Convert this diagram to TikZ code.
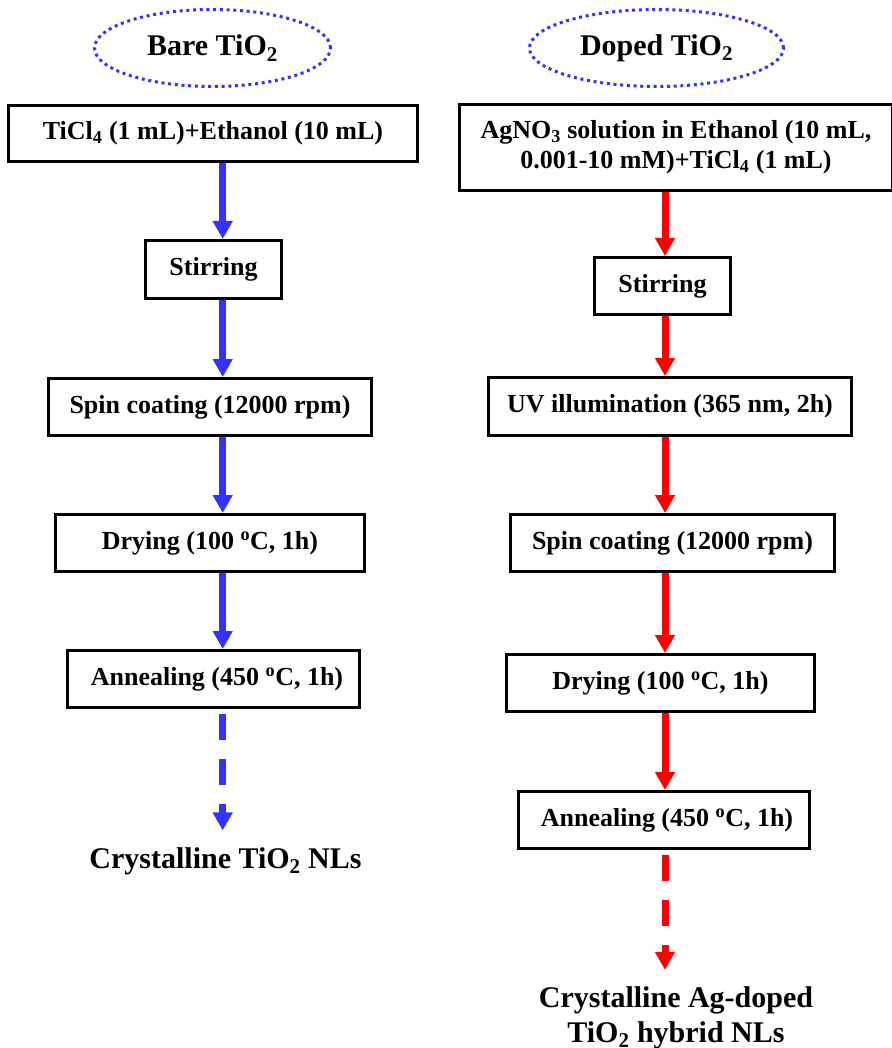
\documentclass[tikz,border=0pt]{standalone}
\usepackage{fontspec}
\setmainfont{Liberation Serif}
\usetikzlibrary{shapes.geometric,arrows.meta}
\definecolor{flowblue}{RGB}{51,51,255}
\definecolor{flowred}{RGB}{255,0,0}
\begin{document}
\begin{tikzpicture}[x=1pt,y=-1pt,
  box/.style={draw, line width=3pt, inner sep=0pt, align=center,
    font=\bfseries\fontsize{26}{30}\selectfont},
  head/.style={ellipse, draw=flowblue, line width=3pt,
    dash pattern=on 3pt off 3.7pt, inner sep=0pt, minimum height=77pt,
    font=\bfseries\fontsize{30}{34}\selectfont},
  final/.style={inner sep=0pt, align=center,
    font=\bfseries\fontsize{30}{35}\selectfont},
  flowL/.style={draw=flowblue, line width=7pt, -{Triangle[width=19pt,length=18pt]}},
  flowR/.style={draw=flowred, line width=7pt, -{Triangle[width=19pt,length=18pt]}},
  lastdash/.style={dash pattern=on 26pt off 19pt, shorten <=5pt, shorten >=16.6pt}
]
\useasboundingbox (0,0) rectangle (891,1048);

% headers
\node[head, minimum width=236pt] (hL) at (212.5,48) {Bare TiO\textsubscript{2}};
\node[head, minimum width=254pt] (hR) at (656.5,48) {Doped TiO\textsubscript{2}};

% left column
\node[box, minimum width=409pt, minimum height=56pt] (l1) at (213,133.5) {TiCl\textsubscript{4} (1 mL)+Ethanol (10 mL)};
\node[box, minimum width=136pt, minimum height=58pt] (l2) at (213.5,269.5) {Stirring};
\node[box, minimum width=323pt, minimum height=57pt] (l3) at (210,407) {Spin coating (12000 rpm)};
\node[box, minimum width=309pt, minimum height=57pt] (l4) at (210,543) {Drying (100 \textsuperscript{o}C, 1h)};
\node[box, minimum width=292pt, minimum height=57pt] (l5) at (213.5,679) {\hspace*{7pt}Annealing (450 \textsuperscript{o}C, 1h)};
\node[final, anchor=base] (fL) at (225.5,868) {Crystalline TiO\textsubscript{2} NLs};

% right column
\node[box, minimum width=433pt, minimum height=86pt] (r1) at (676,147.5) {AgNO\textsubscript{3} solution in Ethanol (10 mL,\\0.001-10 mM)+TiCl\textsubscript{4} (1 mL)};
\node[box, minimum width=136pt, minimum height=57pt] (r2) at (662.5,286) {Stirring};
\node[box, minimum width=363pt, minimum height=58pt] (r3) at (670,406.5) {UV illumination (365 nm, 2h)};
\node[box, minimum width=324pt, minimum height=57pt] (r4) at (672.5,543) {Spin coating (12000 rpm)};
\node[box, minimum width=308pt, minimum height=57pt] (r5) at (660.5,683) {Drying (100 \textsuperscript{o}C, 1h)};
\node[box, minimum width=291pt, minimum height=57pt] (r6) at (664,820) {\hspace*{6pt}Annealing (450 \textsuperscript{o}C, 1h)};
\node[final, anchor=north] (fR) at (676,986.5) {Crystalline Ag-doped\\TiO\textsubscript{2} hybrid NLs};

% arrow axes
\coordinate (axL) at (222.7,0);
\coordinate (axR) at (665,0);

\draw[flowL] (l1.south -| axL) -- (l2.north -| axL);
\draw[flowL] (l2.south -| axL) -- (l3.north -| axL);
\draw[flowL] (l3.south -| axL) -- (l4.north -| axL);
\draw[flowL] (l4.south -| axL) -- (l5.north -| axL);
\draw[flowL, lastdash] (l5.south -| axL) -- (fL.north -| axL);

\draw[flowR] (r1.south -| axR) -- (r2.north -| axR);
\draw[flowR] (r2.south -| axR) -- (r3.north -| axR);
\draw[flowR] (r3.south -| axR) -- (r4.north -| axR);
\draw[flowR] (r4.south -| axR) -- (r5.north -| axR);
\draw[flowR] (r5.south -| axR) -- (r6.north -| axR);
\draw[flowR, lastdash] (r6.south -| axR) -- (fR.north -| axR);
\end{tikzpicture}
\end{document}
